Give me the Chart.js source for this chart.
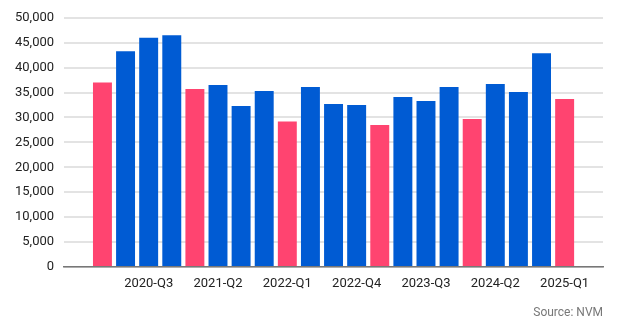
<!DOCTYPE html>
<html>
<head>
<meta charset="utf-8">
<script src="https://cdn.jsdelivr.net/npm/chart.js@4/dist/chart.umd.min.js"></script>
<style>
  html, body { margin: 0; padding: 0; background: #fff; }
  #wrap { width: 620px; height: 326px; position: relative; }
</style>
</head>
<body>
<div id="wrap"><canvas id="chart"></canvas></div>
<script>
// quarters shown on the chart (Q1 bars are drawn in red)
const quarters = [
  '2020-Q1','2020-Q2','2020-Q3','2020-Q4',
  '2021-Q1','2021-Q2','2021-Q3','2021-Q4',
  '2022-Q1','2022-Q2','2022-Q3','2022-Q4',
  '2023-Q1','2023-Q2','2023-Q3','2023-Q4',
  '2024-Q1','2024-Q2','2024-Q3','2024-Q4',
  '2025-Q1'
];
const sales = [
  37000, 43300, 46000, 46500,
  35700, 36500, 32300, 35300,
  29200, 36100, 32700, 32500,
  28500, 34100, 33300, 36100,
  29700, 36700, 35100, 42900,
  33700
];
// only every third quarter gets a label, starting at 2020-Q3
const labelledQuarters = ['2020-Q3','2021-Q2','2022-Q1','2022-Q4','2023-Q3','2024-Q2','2025-Q1'];
const yTicks = [0, 5000, 10000, 15000, 20000, 25000, 30000, 35000, 40000, 45000, 50000];

const RED = '#ff4470';
const BLUE = '#005bd3';
const FONT = 'Roboto, "Noto Sans", sans-serif';

(function(){
  'use strict';

  const points = sales.map((v, i) => ({ x: i, y: v }));
  const colors = quarters.map(q => q.endsWith('Q1') ? RED : BLUE);
  const tickIdx = labelledQuarters.map(q => quarters.indexOf(q));

  new Chart(document.getElementById('chart'), {
    type: 'bar',
    data: {
      datasets: [{
        data: points,
        backgroundColor: colors,
        borderWidth: 0,
        barPercentage: 0.82,
        categoryPercentage: 1
      }]
    },
    options: {
      responsive: true,
      maintainAspectRatio: false,
      animation: false,
      layout: { padding: { top: 7, right: 17, left: 5, bottom: 6 } },
      plugins: {
        legend: { display: false },
        tooltip: { enabled: false },
        subtitle: {
          display: true,
          text: 'Source: NVM',
          position: 'bottom',
          align: 'end',
          color: '#777',
          font: { family: FONT, size: 12 },
          padding: { top: 5, bottom: 0 }
        }
      },
      scales: {
        x: {
          type: 'linear',
          min: -1.66,
          max: 21.66,
          offset: false,
          afterBuildTicks: (scale) => { scale.ticks = tickIdx.map(v => ({ value: v })); },
          ticks: {
            autoSkip: false,
            maxRotation: 0,
            color: '#222',
            font: { family: FONT, size: 13 },
            padding: 9,
            callback: (v) => quarters[v] || ''
          },
          grid: { display: false, drawTicks: false },
          border: { display: true, color: '#777', width: 1.5 }
        },
        y: {
          min: 0,
          max: 50000,
          afterBuildTicks: (scale) => { scale.ticks = yTicks.map(v => ({ value: v })); },
          ticks: {
            color: '#222',
            font: { family: FONT, size: 13 },
            padding: 10,
            callback: (v) => v.toLocaleString('en-US')
          },
          grid: { color: '#e3e3e3', lineWidth: 2, drawTicks: false },
          border: { display: false }
        }
      }
    }
  });
})();
</script>
</body>
</html>
